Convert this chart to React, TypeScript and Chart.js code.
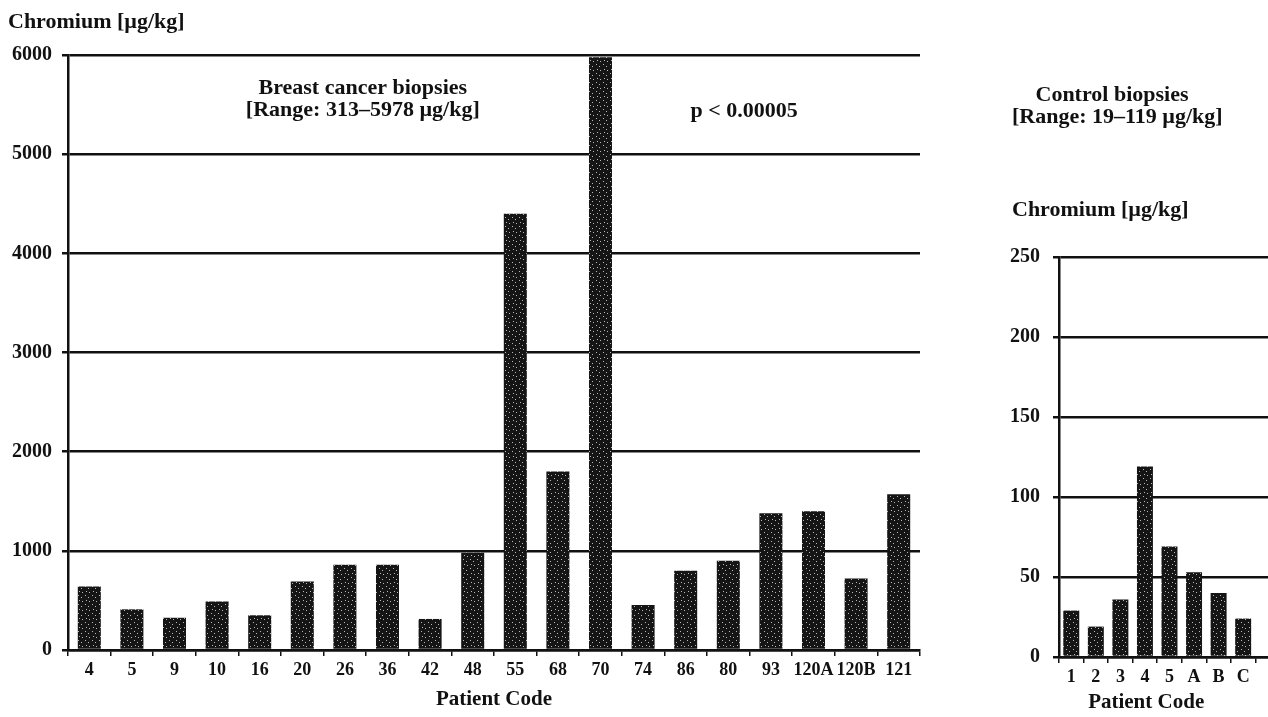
import React, { useEffect, useRef } from "react";
import { Chart, registerables } from "chart.js";

Chart.register(...registerables);

// ---------- data ----------
const cancerCodes = ["4", "5", "9", "10", "16", "20", "26", "36", "42", "48", "55", "68", "70", "74", "86", "80", "93", "120A", "120B", "121"];
const cancerChromium = [640, 410, 325, 490, 350, 690, 860, 860, 313, 980, 4400, 1800, 5978, 455, 800, 900, 1380, 1400, 720, 1570];
const cancerTicks = [0, 1000, 2000, 3000, 4000, 5000, 6000];

const controlCodes = ["1", "2", "3", "4", "5", "A", "B", "C", ""];
const controlChromium = [29, 19, 36, 119, 69, 53, 40, 24];
const controlTicks = [0, 50, 100, 150, 200, 250];

const FONT = "'Liberation Serif', 'Times New Roman', serif";
const INK = "#111111";

type Note = {
  text: string;
  mode: "data" | "area" | "below";
  x: number;
  y: number;
  align: CanvasTextAlign;
  size: number;
};

const cancerNotes: Note[] = [
  { text: "Chromium [µg/kg]", mode: "area", x: -60, y: -33, align: "left", size: 22 },
  { text: "Breast cancer biopsies", mode: "data", x: 6.42, y: 5667, align: "center", size: 22 },
  { text: "[Range: 313–5978 µg/kg]", mode: "data", x: 6.42, y: 5445, align: "center", size: 22 },
  { text: "p < 0.00005", mode: "data", x: 15.37, y: 5435, align: "center", size: 22 },
  { text: "Patient Code", mode: "below", x: 9.5, y: 50, align: "center", size: 21 },
];

const controlNotes: Note[] = [
  { text: "Control biopsies", mode: "area", x: 53, y: -162, align: "center", size: 22 },
  { text: "[Range: 19–119 µg/kg]", mode: "area", x: -47, y: -140, align: "left", size: 22 },
  { text: "Chromium [µg/kg]", mode: "area", x: -47, y: -47, align: "left", size: 22 },
  { text: "Patient Code", mode: "below", x: 3.05, y: 46, align: "center", size: 21 },
];

const notesPlugin = {
  id: "notes",
  afterDraw(chart: any, _args: any, opts: any) {
    const notes: Note[] = opts.items || [];
    const { ctx, chartArea } = chart;
    const xs = chart.scales.x;
    const ys = chart.scales.y;
    ctx.save();
    ctx.fillStyle = INK;
    ctx.textBaseline = "middle";
    for (const n of notes) {
      ctx.font = `bold ${n.size}px ${FONT}`;
      ctx.textAlign = n.align;
      let px = 0;
      let py = 0;
      if (n.mode === "data") {
        px = xs.getPixelForValue(n.x);
        py = ys.getPixelForValue(n.y);
      } else if (n.mode === "below") {
        px = xs.getPixelForValue(n.x);
        py = chartArea.bottom + n.y;
      } else {
        px = chartArea.left + n.x;
        py = chartArea.top + n.y;
      }
      ctx.fillText(n.text, px, py);
    }
    ctx.restore();
  },
};

function makePattern(): CanvasPattern | string {
  const c = document.createElement("canvas");
  c.width = 7;
  c.height = 9;
  const g = c.getContext("2d");
  if (!g) return INK;
  g.fillStyle = "#151515";
  g.fillRect(0, 0, 7, 9);
  g.fillStyle = "#b8b8b8";
  const dots = [
    [1, 1],
    [4, 3],
    [2, 6],
    [5, 7],
  ];
  dots.forEach(([x, y]) => g.fillRect(x, y, 1, 1));
  return g.createPattern(c, "repeat") || INK;
}

function buildConfig(
  labels: string[],
  values: number[],
  ticks: number[],
  notes: Note[],
  opts: {
    max: number;
    barPct: number;
    yWidth: number;
    xHeight: number;
    padTop: number;
    padRight: number;
    yPad: number;
  }
): any {
  const yFont = { family: FONT, size: 20, weight: "bold" as const };
  const xFont = { family: FONT, size: 18, weight: "bold" as const };
  return {
    type: "bar",
    data: {
      labels,
      datasets: [
        {
          data: values,
          backgroundColor: makePattern(),
          borderWidth: 0,
          barPercentage: opts.barPct,
          categoryPercentage: 1,
        },
      ],
    },
    plugins: [notesPlugin],
    options: {
      animation: false,
      responsive: false,
      maintainAspectRatio: false,
      devicePixelRatio: 1,
      layout: { padding: { left: 0, top: opts.padTop, right: opts.padRight, bottom: 0 } },
      plugins: {
        legend: { display: false },
        tooltip: { enabled: false },
        title: { display: false },
        notes: { items: notes },
      },
      scales: {
        x: {
          offset: true,
          grid: {
            display: true,
            drawOnChartArea: false,
            drawTicks: true,
            tickLength: 6,
            color: INK,
            lineWidth: 1.5,
            offset: true,
          },
          border: { display: true, color: INK, width: 2.5 },
          ticks: {
            color: INK,
            font: xFont,
            autoSkip: false,
            maxRotation: 0,
            minRotation: 0,
            padding: 4,
          },
          afterFit: (s: any) => {
            s.height = opts.xHeight;
          },
        },
        y: {
          min: 0,
          max: opts.max,
          afterBuildTicks: (s: any) => {
            s.ticks = ticks.map((v) => ({ value: v }));
          },
          grid: { color: INK, lineWidth: 2.5, drawTicks: true, tickLength: 6 },
          border: { display: true, color: INK, width: 2.5 },
          ticks: {
            color: INK,
            font: yFont,
            padding: opts.yPad,
            callback: (v: any) => String(v),
          },
          afterFit: (s: any) => {
            s.width = opts.yWidth;
          },
        },
      },
    },
  };
}

export default function App() {
  const leftRef = useRef<HTMLCanvasElement | null>(null);
  const rightRef = useRef<HTMLCanvasElement | null>(null);

  useEffect(() => {
    if (!leftRef.current || !rightRef.current) return;
    const left = new Chart(
      leftRef.current,
      buildConfig(cancerCodes, cancerChromium, cancerTicks, cancerNotes, {
        max: 6000,
        barPct: 0.54,
        yWidth: 68,
        xHeight: 67,
        padTop: 55,
        padRight: 20,
        yPad: 10,
      })
    );
    const right = new Chart(
      rightRef.current,
      buildConfig(controlCodes, controlChromium, controlTicks, controlNotes, {
        max: 250,
        barPct: 0.65,
        yWidth: 99,
        xHeight: 60,
        padTop: 257,
        padRight: 10,
        yPad: 13,
      })
    );
    return () => {
      left.destroy();
      right.destroy();
    };
  }, []);

  return (
    <div
      style={{
        position: "fixed",
        left: 0,
        top: 0,
        width: 1268,
        height: 717,
        overflow: "hidden",
        background: "#ffffff",
      }}
    >
      <canvas
        ref={leftRef}
        width={940}
        height={717}
        style={{ position: "absolute", left: 0, top: 0, width: 940, height: 717, display: "block" }}
      />
      <canvas
        ref={rightRef}
        width={330}
        height={717}
        style={{ position: "absolute", left: 960, top: 0, width: 330, height: 717, display: "block" }}
      />
    </div>
  );
}
